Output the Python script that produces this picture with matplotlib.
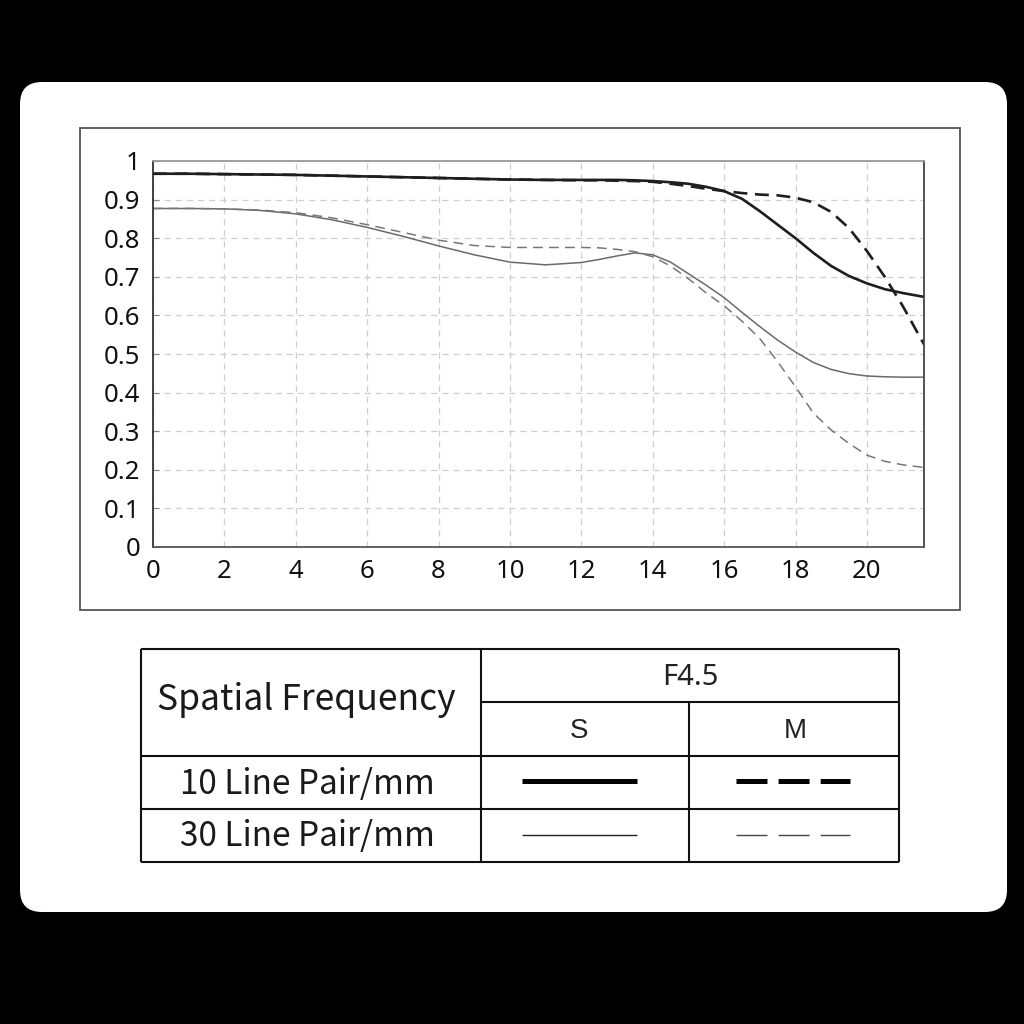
import matplotlib.pyplot as plt
from matplotlib.patches import FancyBboxPatch, Rectangle

plt.rcParams['lines.scale_dashes'] = False

# MTF data
freq = [0, 1, 2, 3, 4, 5, 6, 7, 8, 9, 10, 11, 12, 12.5, 13, 13.5, 14, 14.5, 15,
        15.5, 16, 16.5, 17, 17.5, 18, 18.5, 19, 19.5, 20, 20.5, 21, 21.6]
mtf_10_s = [0.967, 0.967, 0.966, 0.965, 0.964, 0.962, 0.960, 0.958, 0.956, 0.954, 0.952,
            0.951, 0.951, 0.951, 0.951, 0.950, 0.948, 0.945, 0.941, 0.933, 0.922, 0.902,
            0.870, 0.835, 0.800, 0.762, 0.728, 0.702, 0.683, 0.668, 0.658, 0.648]
mtf_10_m = [0.967, 0.967, 0.966, 0.965, 0.964, 0.962, 0.960, 0.958, 0.956, 0.954, 0.952,
            0.951, 0.950, 0.950, 0.949, 0.948, 0.946, 0.941, 0.935, 0.928, 0.922, 0.917,
            0.913, 0.911, 0.905, 0.893, 0.868, 0.826, 0.767, 0.700, 0.625, 0.525]
mtf_30_s = [0.877, 0.877, 0.876, 0.872, 0.863, 0.848, 0.828, 0.805, 0.780, 0.757, 0.738,
            0.731, 0.737, 0.745, 0.754, 0.762, 0.757, 0.738, 0.708, 0.678, 0.646, 0.608,
            0.571, 0.536, 0.505, 0.478, 0.460, 0.449, 0.443, 0.441, 0.440, 0.440]
mtf_30_m = [0.877, 0.877, 0.876, 0.873, 0.866, 0.853, 0.835, 0.815, 0.795, 0.781, 0.776,
            0.776, 0.776, 0.775, 0.771, 0.765, 0.752, 0.728, 0.695, 0.658, 0.625, 0.585,
            0.540, 0.480, 0.415, 0.347, 0.303, 0.268, 0.238, 0.222, 0.213, 0.206]

x_ticks = list(range(0, 21, 2))
y_ticks = [0, 0.1, 0.2, 0.3, 0.4, 0.5, 0.6, 0.7, 0.8, 0.9, 1]
y_labels = ['0', '0.1', '0.2', '0.3', '0.4', '0.5', '0.6', '0.7', '0.8', '0.9', '1']

aperture = 'F4.5'
col_names = ['S', 'M']
row_names = ['10 Line Pair/mm', '30 Line Pair/mm']

fig = plt.figure(figsize=(10.24, 10.24), dpi=100, facecolor='black')

# background layer in pixel coordinates (card, frame, table)
bg = fig.add_axes([0, 0, 1, 1], zorder=0)
bg.set_xlim(0, 1024)
bg.set_ylim(1024, 0)
bg.axis('off')
bg.add_patch(FancyBboxPatch((20, 82), 987, 830, boxstyle='round,pad=0,rounding_size=22',
                            facecolor='white', edgecolor='none'))
bg.add_patch(Rectangle((80, 128), 880, 482, facecolor='white', edgecolor='#555555', lw=1.3))

# chart
ax = fig.add_axes([153 / 1024, 1 - 547 / 1024, 771 / 1024, 386 / 1024], zorder=2)
ax.set_facecolor('white')
ax.plot(freq, mtf_30_s, color='#6a6a6a', lw=1.1, solid_capstyle='butt')
ax.plot(freq, mtf_30_m, color='#777777', lw=1.1, dashes=(7, 4.5))
ax.plot(freq, mtf_10_m, color='#1e1e1e', lw=1.9, dashes=(10, 5.5))
ax.plot(freq, mtf_10_s, color='#1e1e1e', lw=1.9)
ax.set_xlim(0, 21.6)
ax.set_ylim(0, 1)
ax.set_xticks(x_ticks)
ax.set_yticks(y_ticks)
ax.set_yticklabels(y_labels)
ax.grid(True, color='#cfcfcf', lw=0.9, dashes=(4.5, 3.5))
ax.tick_params(axis='x', length=0, pad=9, labelsize=18.5)
ax.tick_params(axis='y', direction='in', length=4, width=0.8, color='#888888', pad=9, labelsize=18.5)
for lab in ax.get_xticklabels() + ax.get_yticklabels():
    lab.set_fontfamily('Noto Sans')
    lab.set_color('#111111')
ax.spines['top'].set_color('#9a9a9a')
ax.spines['left'].set_color('#333333')
ax.spines['bottom'].set_color('#555555')
ax.spines['right'].set_color('#444444')
for s in ax.spines.values():
    s.set_linewidth(1.3)

# legend table
tk = dict(color='#111111', lw=1.5, solid_capstyle='butt')
L, R, C1, C2 = 141, 899, 481, 689
T, H1, H2, R1, B = 649, 702, 756, 809, 862
for y in (T, H2, R1, B):
    bg.plot([L, R], [y, y], **tk)
bg.plot([C1, R], [H1, H1], **tk)
for x in (L, C1, R):
    bg.plot([x, x], [T, B], **tk)
bg.plot([C2, C2], [H1, B], **tk)

cjk = ['Noto Sans CJK SC', 'DejaVu Sans']
bg.text((L + C1) / 2 - 5, (T + H2) / 2 - 2, 'Spatial Frequency', ha='center', va='center',
        fontsize=25.5, family=cjk, color='#1a1a1a')
for i, name in enumerate(row_names):
    bg.text((L + C1) / 2 - 4, [R1, B][i] - 25, name, ha='center', va='center',
            fontsize=24, family=cjk, color='#1a1a1a')
bg.text((C1 + R) / 2, (T + H1) / 2 + 2, aperture, ha='center', va='center',
        fontsize=21, family='Noto Sans', color='#222222')
for i, name in enumerate(col_names):
    bg.text([(C1 + C2) / 2 - 6, (C2 + R) / 2 + 1][i], (H1 + H2) / 2 + 2, name, ha='center',
            va='center', fontsize=20, family='Liberation Sans', color='#222222')

bg.plot([522, 637], [781, 781], color='black', lw=3.6, solid_capstyle='butt')
bg.plot([736, 850], [781, 781], color='black', lw=3.6, dashes=(22.3, 8.0), dash_capstyle='butt')
bg.plot([522, 637], [835, 835], color='#222222', lw=1.0, solid_capstyle='butt')
bg.plot([736, 850], [835, 835], color='#444444', lw=1.0, dashes=(22.3, 8.0), dash_capstyle='butt')

fig.savefig('out.png', dpi=100, facecolor='black')
